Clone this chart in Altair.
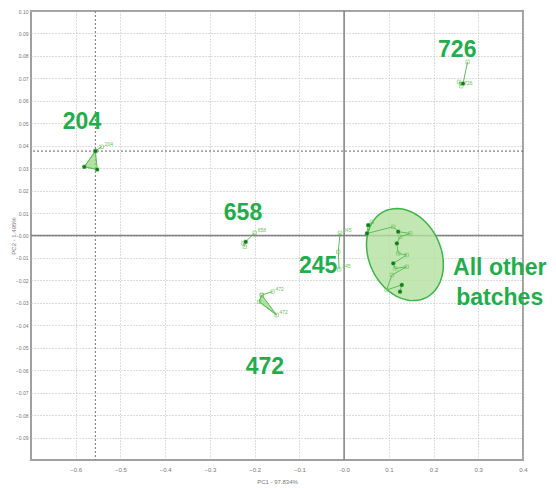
import altair as alt
import pandas as pd
import numpy as np

# ---- data ----
groups = ["204", "204", "204", "204", "204",
          "726", "726", "726", "726",
          "658", "658", "658", "658",
          "472", "472", "472", "472", "472",
          "245", "245", "245",
          "oth", "oth", "oth", "oth", "oth", "oth", "oth", "oth", "oth", "oth", "oth", "oth", "oth", "oth", "oth", "oth", "oth"]
pc1 = [-0.542, -0.556, -0.581, -0.552, -0.556,
       0.276, 0.266, 0.257, 0.262,
       -0.200, -0.220, -0.225, -0.222,
       -0.160, -0.184, -0.190, -0.151, -0.184,
       -0.009, -0.013, -0.011,
       0.062, 0.054, 0.051, 0.110, 0.121, 0.148, 0.125, 0.118, 0.121, 0.140, 0.110, 0.114, 0.140, 0.107, 0.095, 0.129, 0.125]
pc2 = [0.0395, 0.0376, 0.0306, 0.0294, 0.0376,
       0.0773, 0.0677, 0.0684, 0.0665,
       0.0012, -0.0028, -0.0035, -0.0050,
       -0.0250, -0.0265, -0.0295, -0.0354, -0.0265,
       0.0012, -0.0073, -0.0151,
       0.0061, 0.0046, 0.0009, 0.0039, 0.0017, 0.0009, -0.0006, -0.0035, -0.0080, -0.0087, -0.0124, -0.0147, -0.0139, -0.0176, -0.0243, -0.0220, -0.0250]
dark = [0, 1, 1, 1, 0,
        0, 1, 0, 0,
        0, 1, 0, 0,
        0, 0, 0, 0, 0,
        0, 0, 0,
        0, 1, 1, 0, 1, 0, 0, 1, 0, 0, 1, 0, 0, 0, 0, 1, 1]
# which points carry a tiny sample tag
tagged = [1, 0, 0, 0, 0,
          0, 0, 0, 1,
          1, 0, 0, 0,
          1, 0, 0, 1, 0,
          1, 0, 1,
          0, 0, 0, 0, 0, 0, 0, 0, 0, 0, 0, 0, 0, 0, 0, 0, 0]

# filled triangles (204 and 472 groups)
tri_group = ["204", "204", "204", "472", "472", "472"]
tri_x = [-0.556, -0.581, -0.552, -0.184, -0.190, -0.151]
tri_y = [0.0376, 0.0306, 0.0294, -0.0265, -0.0295, -0.0354]

# annotation labels
lab_text = ["726", "204", "658", "245", "472", "All other", "batches"]
lab_x = [0.253, -0.586, -0.226, -0.058, -0.177, 0.348, 0.348]
lab_y = [0.0825, 0.0505, 0.0100, -0.0136, -0.0586, -0.0145, -0.0279]

x_ticks = [-0.6, -0.5, -0.4, -0.3, -0.2, -0.1, 0.0, 0.1, 0.2, 0.3, 0.4]
y_ticks = [0.10, 0.09, 0.08, 0.07, 0.06, 0.05, 0.04, 0.03, 0.02, 0.01, 0.0,
           -0.01, -0.02, -0.03, -0.04, -0.05, -0.06, -0.07, -0.08, -0.09]

t2_x = -0.556   # dotted limit lines
t2_y = 0.0376

# ellipse parameters (centre in data units, axes in px-equivalent)
ell_cx, ell_cy = 0.136, -0.0085
ell_a, ell_b, ell_tilt = 48.0, 36.0, 25.0
px_per_x, px_per_y = 447.0, 2247.0

W, H = 492, 449
xs = alt.Scale(domain=[-0.7, 0.4], nice=False, zero=False)
ys = alt.Scale(domain=[-0.10, 0.10], nice=False, zero=False)

pts = pd.DataFrame({"g": groups, "x": pc1, "y": pc2, "dark": dark, "tag": tagged})
pts["o"] = range(len(pts))
tri = pd.DataFrame({"g": tri_group, "x": tri_x, "y": tri_y})
tri["o"] = range(len(tri))
labs = pd.DataFrame({"t": lab_text, "x": lab_x, "y": lab_y})

t = np.linspace(0, 2 * np.pi, 73)
th = np.deg2rad(ell_tilt)
# major axis leans from upper-left to lower-right
ex_px = -ell_a * np.sin(th) * np.cos(t) + ell_b * np.cos(th) * np.sin(t)
ey_up = ell_a * np.cos(th) * np.cos(t) + ell_b * np.sin(th) * np.sin(t)
ell = pd.DataFrame({"x": ell_cx + ex_px / px_per_x,
                    "y": ell_cy + ey_up / px_per_y,
                    "o": range(len(t))})

lab_x_expr = "abs(datum.value) < 1e-9 ? '-0.0' : format(datum.value, '.1f')"
lab_y_expr = "abs(datum.value) < 1e-9 ? '-0.00' : format(datum.value, '.2f')"

xax = alt.Axis(values=x_ticks, labelExpr=lab_x_expr, title="PC1 - 97.834%",
               labelFontSize=6, titleFontSize=6, titleFontWeight="normal",
               labelColor="#777", titleColor="#777", grid=True,
               gridDash=[1, 2], gridColor="#bbbbbb", domain=False, ticks=False,
               labelPadding=6, titlePadding=6, labelFlush=False, labelOverlap=False)
yax = alt.Axis(values=y_ticks, labelExpr=lab_y_expr, title="PC2 - 1.495%",
               labelFontSize=5, titleFontSize=6, titleFontWeight="normal",
               labelColor="#777", titleColor="#777", grid=True,
               gridDash=[1, 2], gridColor="#bbbbbb", domain=False, ticks=False,
               labelPadding=3, labelFlush=False, labelOverlap=False,
               titleX=-18, titleY=H / 2, titleAlign="center", titleBaseline="middle", titleAngle=270)


def X():
    return alt.X("x:Q", scale=xs, axis=xax)


def Y():
    return alt.Y("y:Q", scale=ys, axis=yax)


grid_layer = alt.Chart(pd.DataFrame({"x": [0.0], "y": [0.0]})).mark_point(opacity=0).encode(x=X(), y=Y())

zero_v = alt.Chart(pd.DataFrame({"x": [0.0]})).mark_rule(color="#808080", strokeWidth=1.5).encode(x=X())
zero_h = alt.Chart(pd.DataFrame({"y": [0.0]})).mark_rule(color="#808080", strokeWidth=1.5).encode(y=Y())
lim_v = alt.Chart(pd.DataFrame({"x": [t2_x]})).mark_rule(color="#888", strokeWidth=1.2, strokeDash=[2, 2]).encode(x=X())
lim_h = alt.Chart(pd.DataFrame({"y": [t2_y]})).mark_rule(color="#666", strokeWidth=1.0, strokeDash=[2, 2]).encode(y=Y())

ellipse = alt.Chart(ell).mark_line(fill="#b3e19f", fillOpacity=0.8, stroke="#3cb54a", strokeWidth=1.5).encode(
    x=X(), y=Y(), order="o:Q")

tri_layer = alt.Chart(tri).mark_line(fill="#8fd67c", fillOpacity=0.7, stroke="#6cc35a", strokeWidth=1).encode(
    x=X(), y=Y(), detail="g:N", order="o:Q")

lines = alt.Chart(pts).mark_line(color="#5bbf55", strokeWidth=1).encode(
    x=X(), y=Y(), detail="g:N", order="o:Q")

light_pts = alt.Chart(pts).mark_point(shape="square", size=12, color="#6cc35a", strokeWidth=0.8).encode(
    x=X(), y=Y())

dark_pts = alt.Chart(pts[pts["dark"] == 1]).mark_circle(size=14, color="#137a1e", opacity=1).encode(
    x=X(), y=Y())

tiny = alt.Chart(pts[pts["tag"] == 1]).mark_text(fontSize=5, color="#6cc35a", align="left", dx=3, dy=-3).encode(
    x=X(), y=Y(), text="g:N")

texts = alt.Chart(labs).mark_text(font="Liberation Sans", fontSize=23, fontWeight="bold",
                                  color="#1fae4b", align="center", baseline="middle").encode(
    x=X(), y=Y(), text="t:N")

chart = alt.layer(grid_layer, lim_v, lim_h, zero_v, zero_h, ellipse, tri_layer, lines,
                  light_pts, dark_pts, tiny, texts).properties(
    width=W, height=H,
    autosize=alt.AutoSizeParams(type="none"),
    padding={"left": 23, "top": 3, "right": 25, "bottom": 28},
    background="white",
).configure_view(stroke="#a0a0a0", strokeWidth=2).configure_axis(labelOverlap=False)

chart.save("out.html", embed_options={"renderer": "svg", "actions": False})
